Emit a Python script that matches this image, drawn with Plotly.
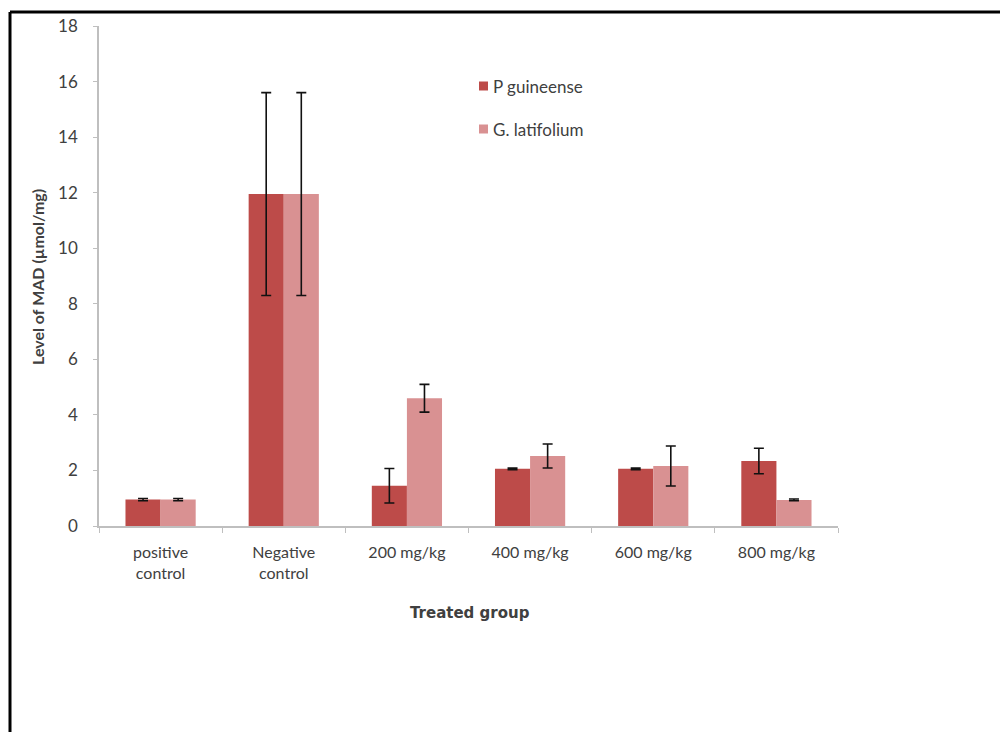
import plotly.graph_objects as go

# Treated groups and MAD levels (µmol/mg) with their error bars
groups = ["positive<br>control", "Negative<br>control", "200 mg/kg",
          "400 mg/kg", "600 mg/kg", "800 mg/kg"]
series_names = ["P guineense", "G. latifolium"]
p_guineense = [0.95, 11.95, 1.45, 2.06, 2.06, 2.34]
p_guineense_err = [0.04, 3.65, 0.62, 0.03, 0.03, 0.46]
g_latifolium = [0.95, 11.95, 4.60, 2.52, 2.16, 0.94]
g_latifolium_err = [0.04, 3.65, 0.50, 0.43, 0.72, 0.03]
y_ticks = [0, 2, 4, 6, 8, 10, 12, 14, 16, 18]

FONT = "Lato, Calibri, Carlito, 'Liberation Sans', sans-serif"
TEXT = "#404040"
COLORS = ["#BD4B49", "#D99192"]

fig = go.Figure()
for name, vals, errs, col in zip(series_names,
                                 [p_guineense, g_latifolium],
                                 [p_guineense_err, g_latifolium_err],
                                 COLORS):
    fig.add_trace(go.Bar(
        name=name, x=groups, y=vals, showlegend=False,
        marker=dict(color=col, line=dict(width=0)),
        error_y=dict(type="data", array=errs, visible=True,
                     color="#111111", thickness=1.6, width=5),
    ))

# Compact legend: small colour squares with labels beside them
X0, PLOT_W, Y0, PLOT_H = 99, 739, 526, 500
def px_x(v):
    return (v - X0) / PLOT_W
def px_y(v):
    return (Y0 - v) / PLOT_H

legend_rows = [86, 129]
shapes = []
annotations = []
for name, col, row in zip(series_names, COLORS, legend_rows):
    shapes.append(dict(type="rect", xref="paper", yref="paper",
                       x0=px_x(479), x1=px_x(488), y0=px_y(row - 4.5), y1=px_y(row + 4.5),
                       fillcolor=col, line=dict(width=0)))
    annotations.append(dict(text=name, xref="paper", yref="paper",
                            x=px_x(491), y=px_y(row), xanchor="left", yanchor="middle",
                            showarrow=False,
                            font=dict(family=FONT, size=17, color=TEXT)))

annotations += [
    dict(text="<b>Level of MAD (µmol/mg)</b>", textangle=-90,
         xref="paper", yref="paper", x=px_x(37), y=px_y(277),
         xanchor="center", yanchor="middle", showarrow=False,
         font=dict(family=FONT, size=16, color=TEXT)),
    dict(text="<b>Treated group</b>",
         xref="paper", yref="paper", x=px_x(470), y=px_y(613),
         xanchor="center", yanchor="middle", showarrow=False,
         font=dict(family="DejaVu Sans, Verdana, sans-serif", size=15, color=TEXT)),
]

# frame around the figure (top and left edges)
shapes += [
    dict(type="line", xref="paper", yref="paper",
         x0=px_x(10), x1=px_x(1002), y0=px_y(12), y1=px_y(12),
         line=dict(color="black", width=3)),
    dict(type="line", xref="paper", yref="paper",
         x0=px_x(10), x1=px_x(10), y0=px_y(12), y1=px_y(740),
         line=dict(color="black", width=3)),
]

fig.update_layout(
    width=1000, height=732,
    margin=dict(l=99, r=162, t=26, b=206),
    paper_bgcolor="white", plot_bgcolor="white",
    barmode="group", bargap=0.43, bargroupgap=0,
    font=dict(family=FONT, size=16, color=TEXT),
    showlegend=False,
    xaxis=dict(
        showline=True, linecolor="#BFBFBF", linewidth=1.5,
        ticks="outside", tickson="boundaries", ticklen=5, tickcolor="#BFBFBF",
        showgrid=False, ticklabelstandoff=11,
        tickfont=dict(family=FONT, size=16, color=TEXT),
    ),
    yaxis=dict(
        range=[0, 18], tickvals=y_ticks,
        showline=True, linecolor="#BFBFBF", linewidth=1.5,
        ticks="outside", ticklen=4, tickcolor="#BFBFBF",
        showgrid=False, zeroline=False, ticklabelstandoff=12,
        tickfont=dict(family=FONT, size=17, color=TEXT),
    ),
    annotations=annotations,
    shapes=shapes,
)

fig.write_html("out.html")
